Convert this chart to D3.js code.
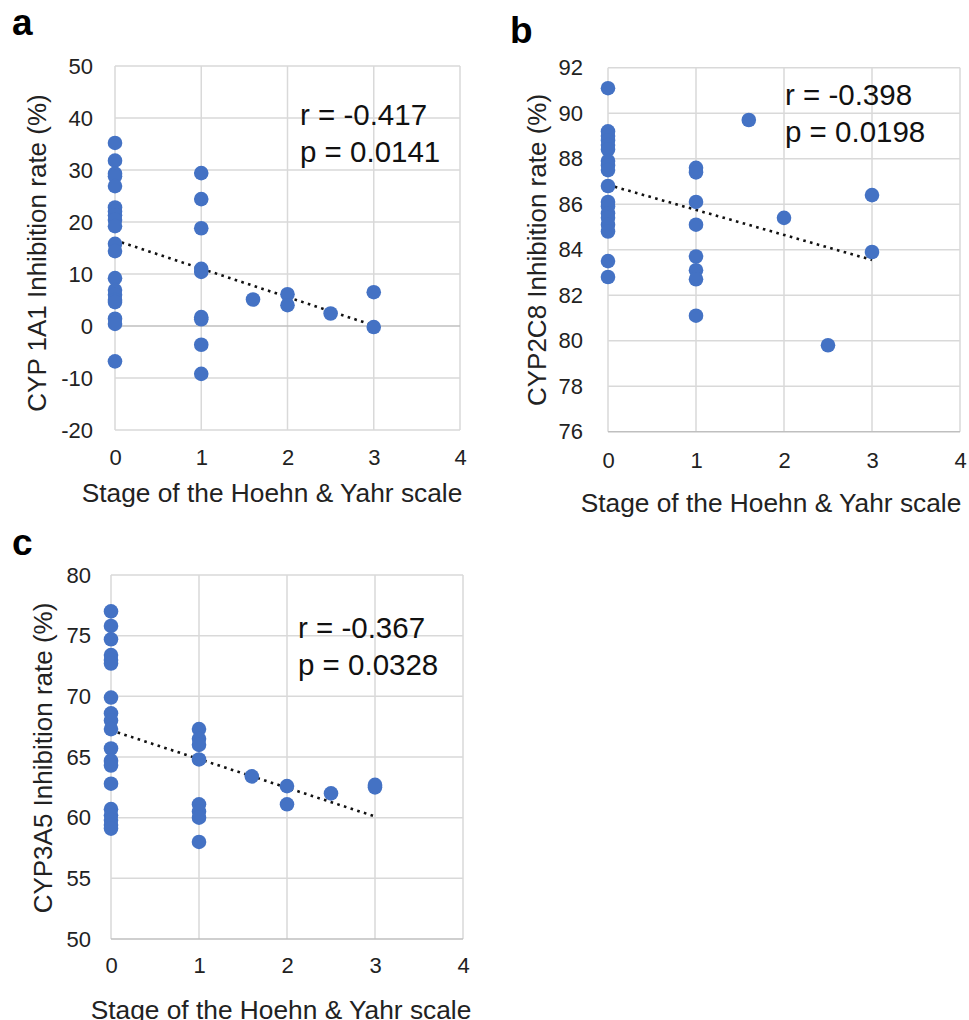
<!DOCTYPE html>
<html><head><meta charset="utf-8">
<script src="https://cdn.jsdelivr.net/npm/d3@7"></script>
<style>
html,body{margin:0;padding:0;background:#fff;}
svg{display:block;font-family:"Liberation Sans",Arial,sans-serif;}
</style></head>
<body><svg id="chart" width="969" height="1020"></svg>
<script>
// ---- data ----
const xTicks = [0, 1, 2, 3, 4];

const stageA = [0,0,0,0,0,0,0,0,0,0,0,0,0,0,0,0,0,0,0,0, 1,1,1,1,1,1,1,1,1, 1.6, 2,2, 2.5, 3,3];
const rateA  = [35.2,31.8,29.3,28.8,26.9,22.8,22.0,21.3,20.4,19.2,15.8,14.4,9.2,6.9,6.0,5.0,4.6,1.4,0.4,-6.8,
                29.4,24.4,18.8,11.0,10.4,1.7,1.3,-3.6,-9.2, 5.1, 6.1,4.0, 2.4, 6.5,-0.2];
const yTicksA = [-20,-10,0,10,20,30,40,50];
const trendA = [16.5, 0.1];   // fitted values at stage 0 and 3

const stageB = [0,0,0,0,0,0,0,0,0,0,0,0,0,0,0,0,0,0, 1,1,1,1,1,1,1,1, 1.6, 2, 2.5, 3,3];
const rateB  = [91.1,89.2,89.0,88.8,88.6,88.4,87.9,87.7,87.5,86.8,86.1,85.9,85.6,85.4,85.1,84.8,83.5,82.8,
                87.6,87.4,86.1,85.1,83.7,83.1,82.7,81.1, 89.7, 85.4, 79.8, 86.4,83.9];
const yTicksB = [76,78,80,82,84,86,88,90,92];
const trendB = [86.85, 83.55];

const stageC = [0,0,0,0,0,0,0,0,0,0,0,0,0,0,0,0,0,0,0, 1,1,1,1,1,1,1,1, 1.6, 2,2, 2.5, 3,3];
const rateC  = [77.0,75.8,74.7,73.4,73.0,72.7,69.9,68.6,68.0,67.3,65.7,64.7,64.3,62.8,60.7,60.2,59.8,59.4,59.1,
                67.3,66.5,66.0,64.8,61.1,60.5,60.0,58.0, 63.4, 62.6,61.1, 62.0, 62.5,62.7];
const yTicksC = [50,55,60,65,70,75,80];
const trendC = [67.2, 60.1];

const trendStages = [0, 3];

// ---- layout ----
const svg = d3.select("#chart");
const gridColor = "#d9d9d9";
const dotColor = "#4472C4";
const fmt = d => String(d);

function panel(o) {
  const x = d3.scaleLinear().domain([0, 4]).range([o.x0, o.x1]);
  const y = d3.scaleLinear().domain([o.yTicks[0], o.yTicks[o.yTicks.length-1]]).range([o.yb, o.yt]);
  const g = svg.append("g");

  // vertical grid
  g.append("g").selectAll("line").data(xTicks).join("line")
    .attr("x1", d => x(d)).attr("x2", d => x(d))
    .attr("y1", o.yt).attr("y2", o.yb)
    .attr("stroke", gridColor).attr("stroke-width", 1.5);
  // horizontal grid
  g.append("g").selectAll("line").data(o.yTicks).join("line")
    .attr("x1", o.x0).attr("x2", o.x1)
    .attr("y1", d => y(d)).attr("y2", d => y(d))
    .attr("stroke", d => d === o.axisAt ? "#bfbfbf" : gridColor).attr("stroke-width", 1.5);

  // y tick labels
  const yAxis = d3.axisLeft(y).tickValues(o.yTicks).tickFormat(fmt).tickSize(0).tickPadding(0);
  const ya = g.append("g").attr("transform", `translate(${o.yLabX},0)`).call(yAxis);
  ya.select(".domain").remove();
  ya.selectAll("text").attr("font-size", 22).attr("fill", "#222")
    .attr("font-family", "Liberation Sans, Arial, sans-serif");

  // x tick labels
  const xAxis = d3.axisBottom(x).tickValues(xTicks).tickFormat(fmt).tickSize(0).tickPadding(0);
  const xa = g.append("g").attr("transform", `translate(0,${o.xLabY})`).call(xAxis);
  xa.select(".domain").remove();
  xa.selectAll("text").attr("font-size", 22).attr("fill", "#222").attr("dy", 0)
    .attr("font-family", "Liberation Sans, Arial, sans-serif");

  // trend line
  g.append("path")
    .datum(trendStages.map((s, i) => [s, o.trend[i]]))
    .attr("d", d3.line().x(d => x(d[0])).y(d => y(d[1])))
    .attr("fill", "none").attr("stroke", "#111").attr("stroke-width", 2.6)
    .attr("stroke-dasharray", "2.6,4.4");

  // points
  g.append("g").selectAll("circle").data(o.xs.map((s, i) => [s, o.ys[i]])).join("circle")
    .attr("cx", d => x(d[0])).attr("cy", d => y(d[1])).attr("r", 7.3)
    .attr("fill", dotColor);

  // axis titles
  g.append("text").attr("x", o.xtX).attr("y", o.xtY)
    .attr("text-anchor", "middle").attr("font-size", 26.3).attr("fill", "#222")
    .text("Stage of the Hoehn & Yahr scale");
  g.append("text").attr("transform", `translate(${o.ytX},${o.ytY}) rotate(-90)`)
    .attr("text-anchor", "middle").attr("dy", "0.35em").attr("font-size", 26).attr("fill", "#222")
    .text(o.yTitle);

  // stats annotation
  g.append("text").attr("x", o.annX).attr("y", o.annY).attr("font-size", 29.5).attr("fill", "#111")
    .text(o.r);
  g.append("text").attr("x", o.annX).attr("y", o.annY + 37).attr("font-size", 29.5).attr("fill", "#111")
    .text(o.p);

  // panel letter
  g.append("text").attr("x", o.letX).attr("y", o.letY).attr("font-size", 37).attr("font-weight", "bold")
    .attr("fill", "#000").text(o.letter);
}

panel({x0:115, x1:460, yt:66, yb:430, yTicks:yTicksA, axisAt:0, xs:stageA, ys:rateA, trend:trendA,
  yLabX:93, xLabY:465, xtX:272, xtY:502, ytX:37, ytY:253, yTitle:"CYP 1A1 Inhibition rate (%)",
  annX:300, annY:125, r:"r = -0.417", p:"p = 0.0141", letX:12, letY:35, letter:"a"});
panel({x0:608, x1:960, yt:67.7, yb:431.7, yTicks:yTicksB, axisAt:76, xs:stageB, ys:rateB, trend:trendB,
  yLabX:583, xLabY:468, xtX:771, xtY:512, ytX:537, ytY:250, yTitle:"CYP2C8 Inhibition rate (%)",
  annX:785, annY:105, r:"r = -0.398", p:"p = 0.0198", letX:510, letY:43, letter:"b"});
panel({x0:111, x1:463, yt:575, yb:939, yTicks:yTicksC, axisAt:50, xs:stageC, ys:rateC, trend:trendC,
  yLabX:91, xLabY:973, xtX:281, xtY:1019, ytX:43, ytY:758, yTitle:"CYP3A5 Inhibition rate (%)",
  annX:298, annY:638, r:"r = -0.367", p:"p = 0.0328", letX:12, letY:555, letter:"c"});
</script></body></html>
